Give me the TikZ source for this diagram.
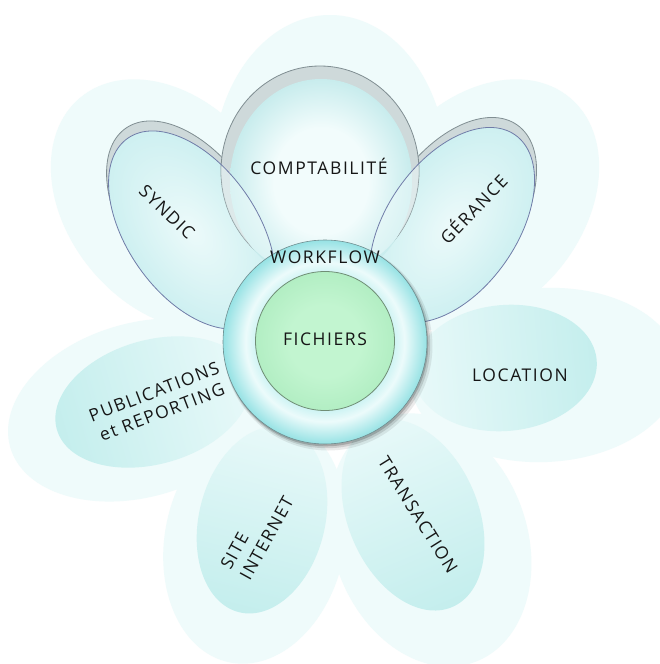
\documentclass[tikz,border=0pt]{standalone}
\usepackage{fontspec}
\setmainfont{Open Sans}[LetterSpace=9]
\definecolor{halo}{RGB}{239,251,251}
\definecolor{petalOut}{RGB}{196,238,237}
\definecolor{petalIn}{RGB}{232,249,249}
\definecolor{shellC}{RGB}{206,217,218}
\definecolor{shellLine}{RGB}{128,142,146}
\definecolor{leafIn}{RGB}{236,250,250}
\definecolor{leafOut}{RGB}{206,240,241}
\definecolor{leafLine}{RGB}{112,124,168}
\definecolor{compIn}{RGB}{242,252,252}
\definecolor{compOut}{RGB}{200,236,237}
\definecolor{ringA}{RGB}{208,244,244}
\definecolor{ringB}{RGB}{236,251,251}
\definecolor{ringC}{RGB}{150,226,228}
\definecolor{ringLine}{RGB}{110,140,142}
\definecolor{greenIn}{RGB}{194,245,208}
\definecolor{greenOut}{RGB}{178,238,195}
\definecolor{greenLine}{RGB}{112,142,118}
\definecolor{txt}{RGB}{22,22,22}
\pgfdeclareradialshading{compsh}{\pgfpointorigin}{color(0bp)=(compIn); color(13bp)=(compIn); color(25bp)=(compOut); color(50bp)=(compOut)}
\pgfdeclareradialshading{ringsh}{\pgfpointorigin}{color(0bp)=(ringA); color(17bp)=(ringA); color(19.5bp)=(ringB); color(25bp)=(ringC); color(50bp)=(ringC)}
\pgfdeclareradialshading{greensh}{\pgfpointorigin}{color(0bp)=(greenIn); color(13bp)=(greenIn); color(25bp)=(greenOut); color(50bp)=(greenOut)}
\newcommand\Eshape[6]{\begin{scope}[transform canvas={shift={(#1,#2)},rotate=#3}]\path[#6] (0,0) ellipse [x radius=#4, y radius=#5];\end{scope}}
\tikzset{
  lbl/.style={text=txt, font=\fontsize{17.5}{22}\selectfont, inner sep=0pt},
  lblone/.style={lbl, text height=12.5pt, text depth=0pt},
  halofill/.style={fill=halo},
  petalfill/.style={left color=petalIn, right color=petalOut},
  shellfill/.style={fill=shellC, draw=shellLine, line width=0.8pt},
  leaffill/.style={inner color=leafIn, outer color=leafOut},
  leafline/.style={draw=leafLine, line width=0.8pt}
}
\begin{document}
\begin{tikzpicture}[x=1pt,y=-1pt]
\useasboundingbox (0,0) rectangle (660,664);
\fill[white] (0,0) rectangle (660,664);
\begin{scope}
\clip (0,0) rectangle (660,664);
% pale outer petals
\Eshape{330}{170}{90}{155}{117}{halofill}
\Eshape{170}{205}{130}{140}{102}{halofill}
\Eshape{480}{205}{50}{140}{102}{halofill}
\Eshape{545}{375}{3}{135}{87}{halofill}
\Eshape{430}{540}{-70}{130}{97}{halofill}
\Eshape{255}{540}{-102}{125}{90}{halofill}
\Eshape{140}{410}{196}{135}{87}{halofill}
% inner lower petals
\Eshape{505}{368}{5}{92}{63}{petalfill}
\Eshape{413}{515}{-67}{100}{65}{petalfill}
\Eshape{262}{520}{-104}{95}{63}{petalfill}
\Eshape{153}{402}{196}{100}{62}{petalfill}
% syndic and gerance, back shells and bodies
\Eshape{190}{220}{125}{112}{65}{shellfill}
\Eshape{192}{230}{125}{112}{65}{leaffill}
\Eshape{454}{215}{55}{110}{65}{shellfill}
\Eshape{452}{225}{55}{110}{65}{leaffill}
% comptabilite
\Eshape{320}{171}{90}{105}{99}{shellfill}
\Eshape{321}{181}{90}{102}{91}{shade, shading=compsh}
% translucent overlap of syndic / gerance over comptabilite
\begin{scope}
\clip (320,171) ellipse [x radius=99, y radius=105];
\Eshape{192}{230}{125}{112}{65}{fill=leafIn, fill opacity=0.5}
\Eshape{452}{225}{55}{110}{65}{fill=leafIn, fill opacity=0.5}
\end{scope}
\Eshape{192}{230}{125}{112}{65}{leafline}
\Eshape{452}{225}{55}{110}{65}{leafline}
% central ring with soft shadow
\fill[black, opacity=0.08] (328,346) circle (104.5);
\fill[black, opacity=0.12] (327,345) circle (103.2);
\fill[black, opacity=0.18] (326,344) circle (102.3);
\shade[shading=ringsh, draw=ringLine, line width=0.6pt] (325,342) circle (102);
\shade[shading=greensh, draw=greenLine, line width=0.8pt] (325,341) circle (69.5);
\end{scope}
% labels
\node[lblone] (comp) at (319,168) {COMPTABILITÉ};
\node[lblone] (work) at (325,257) {WORKFLOW};
\node[lblone] (fich) at (325,339) {FICHIERS};
\node[lblone, rotate=-44] (synd) at (167,212) {SYNDIC};
\node[lblone, rotate=46] (ger) at (474,210) {GÉRANCE};
\node[lblone] (loc) at (520,375) {LOCATION};
\node[lbl, rotate=21, align=center] (pub) at (158,402) {PUBLICATIONS\\et REPORTING};
\node[lbl, rotate=61, align=left] (site) at (257,533) {SITE\\INTERNET};
\node[lblone, rotate=-58] (trans) at (418,515) {TRANSACTION};
\end{tikzpicture}
\end{document}
